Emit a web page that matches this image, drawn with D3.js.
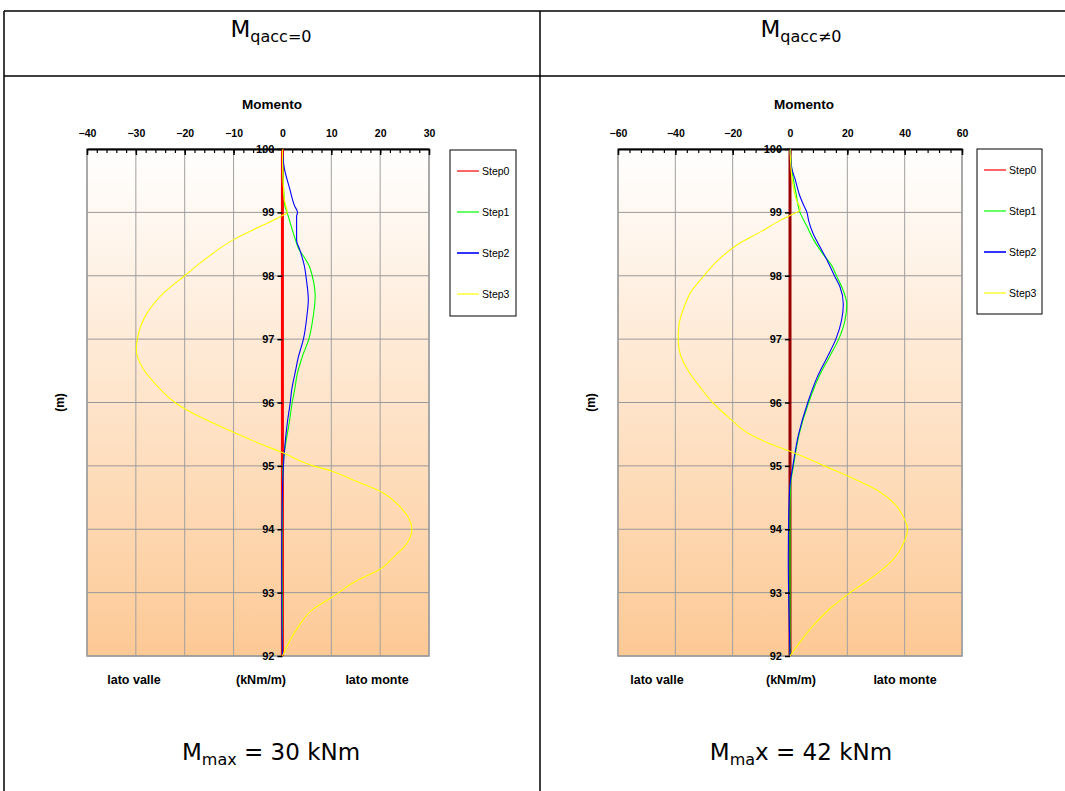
<!DOCTYPE html>
<html>
<head>
<meta charset="utf-8">
<script src="https://cdn.jsdelivr.net/npm/d3@7"></script>
<style>
  body { margin: 0; background: #fff; }
  svg text { font-family: 'Liberation Sans', Arial, sans-serif; }
</style>
</head>
<body>
<div id="chart"></div>
<script>
// series names and colours (legend order)
const stepNames = ['Step0', 'Step1', 'Step2', 'Step3'];
const stepColors = ['#ff0000', '#00ff00', '#0000ff', '#ffff00'];

// [quota (m), momento (kNm/m)] -- qacc = 0
const step0Left = [[100, 0], [92, 0]];
const step1Left = [[100, 0], [99.6, 0.1], [99.3, 0.3], [99.1, 0.5], [99, 0.95], [98.78, 1.8], [98.56, 2.7],
  [98.4, 3.5], [98.3, 4.4], [98.15, 5.5], [98, 6.1], [97.67, 6.7], [97.36, 6.3], [97, 5.4], [96.73, 4.1],
  [96.47, 3.1], [96.2, 2.5], [96, 2.0], [95.68, 1.4], [95.37, 0.7], [95.16, 0.3], [94.95, 0.1], [94.5, 0],
  [93.5, -0.1], [92.8, 0], [92, 0]];
const step2Left = [[100, 0], [99.69, 0.4], [99.37, 1.5], [99.1, 2.5], [99, 3.1], [98.94, 2.9], [98.56, 2.9],
  [98.4, 3.6], [98.15, 4.5], [97.94, 4.9], [97.62, 5.3], [97.36, 5.0], [97, 4.3], [96.73, 3.3], [96.47, 2.6],
  [96.2, 1.9], [96, 1.6], [95.68, 1.0], [95.32, 0.5], [95, 0.2], [94.6, 0], [93.5, -0.15], [92.5, -0.1], [92, 0]];
const step3Left = [[100, 0], [99.6, 0.1], [99.2, 0.4], [99, 1.0], [98.95, 0], [98.78, -4.5], [98.57, -10],
  [98.25, -16], [98, -20], [97.73, -24.3], [97.41, -27.7], [97, -29.7], [96.83, -29.9], [96.52, -28.4],
  [96.26, -25.6], [96, -22], [95.9, -20], [95.53, -10], [95.37, -5.2], [95.21, 0], [95, 6.3], [94.92, 10],
  [94.76, 15], [94.6, 20], [94.36, 24], [94, 26.5], [93.73, 25], [93.58, 23], [93.37, 20], [93.18, 15],
  [92.92, 10], [92.74, 6.3], [92.42, 2.9], [92, 0]];

// [quota (m), momento (kNm/m)] -- qacc != 0
const step0Right = [[100, 0], [92, 0]];
const step1Right = [[100, 0], [99.6, 0.9], [99.3, 2.1], [99, 3.5], [98.78, 5.9], [98.57, 8.2], [98.36, 11.2],
  [98.15, 14.7], [98, 16.2], [97.83, 18], [97.55, 19.8], [97.3, 19.2], [97, 17], [96.7, 13.5], [96.4, 10],
  [96, 6.5], [95.5, 3.2], [95, 1.2], [94.7, 0.2], [94.3, 0], [92, 0]];
const step2Right = [[100, 0], [99.7, 0.6], [99.52, 1.8], [99.25, 3.5], [99.1, 4.9], [99, 5.9], [98.87, 6.5],
  [98.67, 8], [98.46, 10.4], [98.25, 12.9], [98, 15.5], [97.83, 17.4], [97.55, 18.6], [97.3, 18], [97, 16],
  [96.7, 12.8], [96.4, 9.5], [96, 6.2], [95.5, 3], [95, 1], [94.7, 0], [94.3, -0.4], [93.5, -0.6],
  [92.8, -0.4], [92, 0]];
const step3Right = [[100, 0], [99.5, 0.8], [99.2, 2.2], [99.05, 3.6], [98.95, 0], [98.87, -3.5], [98.7, -10],
  [98.5, -18], [98.25, -25], [98, -30], [97.75, -34.5], [97.5, -37], [97.2, -38.8], [97, -39], [96.8, -38.5],
  [96.5, -35.5], [96.25, -31.5], [96, -27], [95.75, -21], [95.5, -14], [95.35, -7], [95.23, 0], [95.1, 7],
  [95, 12], [94.8, 22], [94.6, 31], [94.4, 36.5], [94.2, 39.5], [94, 41], [93.8, 39.8], [93.5, 35.5],
  [93.25, 29], [93, 21], [92.75, 14], [92.5, 8.5], [92.25, 4], [92, 0]];

// axis ticks
const xTicksLeft = [-40, -30, -20, -10, 0, 10, 20, 30];
const xTicksRight = [-60, -40, -20, 0, 20, 40, 60];
const yTicks = [92, 93, 94, 95, 96, 97, 98, 99, 100];

// texts
const chartTitle = 'Momento';
const yTitle = '(m)';
const bottomLabels = ['lato valle', '(kNm/m)', 'lato monte'];

const width = 1065;
const height = 791;

const svg = d3.select('#chart')
  .append('svg')
  .attr('width', width)
  .attr('height', height);

// plot background gradient
const grad = svg.append('defs').append('linearGradient')
  .attr('id', 'bg')
  .attr('x1', 0).attr('y1', 0).attr('x2', 0).attr('y2', 1);
grad.append('stop').attr('offset', '0%').attr('stop-color', '#ffffff');
grad.append('stop').attr('offset', '100%').attr('stop-color', '#fdc995');

// table frame
const frame = svg.append('g').attr('stroke', '#000').attr('stroke-width', 1.5);
frame.append('line').attr('x1', 4).attr('x2', width).attr('y1', 11).attr('y2', 11);
frame.append('line').attr('x1', 4).attr('x2', width).attr('y1', 76).attr('y2', 76);
frame.append('line').attr('x1', 4).attr('x2', 4).attr('y1', 11).attr('y2', height);
frame.append('line').attr('x1', 540).attr('x2', 540).attr('y1', 11).attr('y2', height);

// "M" + subscript (+ optional normal tail)
const cellText = (cx, y, sub, tail) => {
  const t = svg.append('text')
    .attr('x', cx)
    .attr('y', y)
    .attr('text-anchor', 'middle')
    .style('font-family', "'DejaVu Sans', Verdana, sans-serif")
    .style('font-size', '23px');
  t.append('tspan').text('M');
  t.append('tspan').attr('dy', 5).style('font-size', '16px').text(sub);
  if (tail) t.append('tspan').attr('dy', -5).text(tail);
};

cellText(271, 37, 'qacc=0');
cellText(801, 37, 'qacc\u22600');
cellText(271, 760, 'max', ' = 30 kNm');
cellText(801, 760, 'ma', 'x = 42 kNm');

const drawPanel = (p) => {
  const top = 149;
  const bottom = 656;
  const x = d3.scaleLinear().domain(p.xDomain).range([p.left, p.right]);
  const y = d3.scaleLinear().domain([92, 100]).range([bottom, top]);
  const g = svg.append('g');

  g.append('rect')
    .attr('x', p.left)
    .attr('y', top)
    .attr('width', p.right - p.left)
    .attr('height', bottom - top)
    .attr('fill', 'url(#bg)')
    .attr('stroke', '#999')
    .attr('stroke-width', 1.5);

  // grid
  g.append('g').selectAll('line')
    .data(p.xTicks)
    .join('line')
    .attr('x1', (d) => x(d)).attr('x2', (d) => x(d))
    .attr('y1', top).attr('y2', bottom)
    .attr('stroke', '#a0a0a0');
  g.append('g').selectAll('line')
    .data(yTicks)
    .join('line')
    .attr('x1', p.left).attr('x2', p.right)
    .attr('y1', (d) => y(d)).attr('y2', (d) => y(d))
    .attr('stroke', '#999');

  // top axis: labels, major and minor ticks
  const labels = g.append('g')
    .attr('transform', `translate(0,${top})`)
    .call(d3.axisTop(x).tickValues(p.xTicks).tickSize(0).tickPadding(12).tickFormat(d3.format('d')));
  labels.select('.domain').remove();
  labels.selectAll('text')
    .attr('fill', '#000')
    .style('font-size', '10.5px')
    .style('font-weight', 'bold');

  const minor = g.append('g')
    .attr('transform', `translate(0,${top})`)
    .call(d3.axisBottom(x).tickValues(d3.range(p.xDomain[0], p.xDomain[1] + 0.1, p.minorStep))
      .tickSize(4).tickSizeOuter(0).tickFormat(''));
  minor.select('.domain').attr('stroke-width', 2);
  minor.selectAll('.tick line').attr('stroke-width', 1.2);
  g.append('g')
    .attr('transform', `translate(0,${top})`)
    .call(d3.axisBottom(x).tickValues(p.xTicks).tickSize(6).tickSizeOuter(0).tickFormat(''))
    .call((a) => a.select('.domain').remove())
    .selectAll('.tick line').attr('stroke-width', 1.5);

  // series
  const line = d3.line()
    .x((d) => x(d[1]))
    .y((d) => y(d[0]))
    .curve(d3.curveMonotoneY);
  g.append('g').selectAll('path')
    .data(p.series)
    .join('path')
    .attr('d', line)
    .attr('fill', 'none')
    .attr('stroke', (d, i) => (i === 0 ? p.step0Color : stepColors[i]))
    .attr('stroke-width', (d, i) => (i === 0 ? 3 : 1.1));

  // left axis at zero
  const yAxis = g.append('g')
    .attr('transform', `translate(${x(0)},0)`)
    .call(d3.axisLeft(y).tickValues(yTicks).tickSize(5).tickPadding(3).tickSizeOuter(0).tickFormat(d3.format('d')));
  yAxis.select('.domain').remove();
  yAxis.selectAll('.tick line').attr('stroke-width', 1.5);
  yAxis.selectAll('text')
    .attr('fill', '#000')
    .style('font-size', '11px')
    .style('font-weight', 'bold');

  // titles
  g.append('text')
    .attr('x', (p.left + p.right) / 2 + 14)
    .attr('y', 109)
    .attr('text-anchor', 'middle')
    .style('font-size', '13.5px')
    .style('font-weight', 'bold')
    .text(chartTitle);
  g.append('text')
    .attr('transform', `translate(${p.left - 23},${(top + bottom) / 2}) rotate(-90)`)
    .attr('text-anchor', 'middle')
    .style('font-size', '12px')
    .style('font-weight', 'bold')
    .text(yTitle);
  g.append('g').selectAll('text')
    .data(bottomLabels)
    .join('text')
    .attr('x', (d, i) => p.left + p.labelOffsets[i])
    .attr('y', 684)
    .attr('text-anchor', 'middle')
    .style('font-size', '12.5px')
    .style('font-weight', 'bold')
    .text((d) => d);

  // legend
  const lg = g.append('g').attr('transform', `translate(${p.legendX},${p.legendY})`);
  lg.append('rect')
    .attr('width', p.legendW)
    .attr('height', p.legendH)
    .attr('fill', '#fff')
    .attr('stroke', '#000');
  const item = lg.selectAll('g')
    .data(stepNames)
    .join('g')
    .attr('transform', (d, i) => `translate(0,${21 + i * 41})`);
  item.append('line')
    .attr('x1', 7).attr('x2', 29)
    .attr('stroke', (d, i) => stepColors[i])
    .attr('stroke-width', (d, i) => (i === 2 ? 1.6 : 1.2));
  item.append('text')
    .attr('x', 32)
    .attr('dy', '0.35em')
    .style('font-size', '10.5px')
    .text((d) => d);
};

drawPanel({
  xDomain: [-40, 30],
  xTicks: xTicksLeft,
  minorStep: 2,
  left: 87,
  right: 429,
  series: [step0Left, step1Left, step2Left, step3Left],
  step0Color: '#ff0000',
  labelOffsets: [47, 174, 290],
  legendX: 450, legendY: 150, legendW: 66, legendH: 166
});

drawPanel({
  xDomain: [-60, 60],
  xTicks: xTicksRight,
  minorStep: 4,
  left: 618,
  right: 962,
  series: [step0Right, step1Right, step2Right, step3Right],
  step0Color: '#9b0000',
  labelOffsets: [39, 173, 287],
  legendX: 977, legendY: 149, legendW: 65, legendH: 165
});
</script>
</body>
</html>
